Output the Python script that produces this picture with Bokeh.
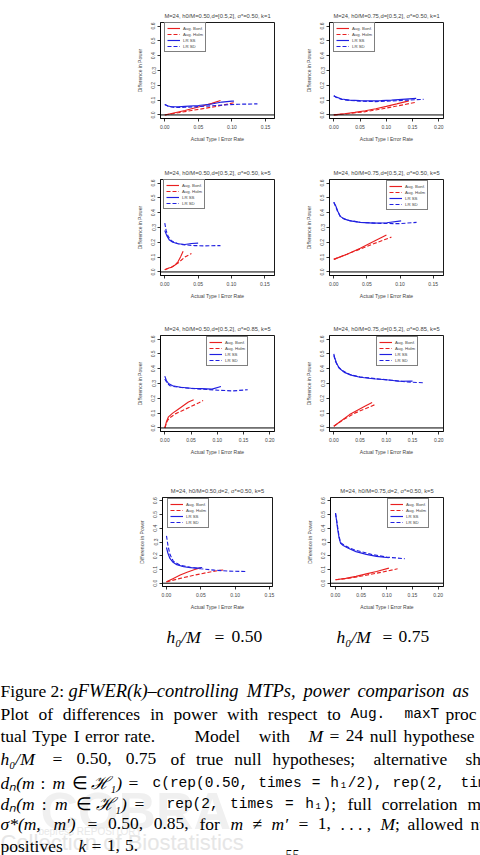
from bokeh.plotting import figure
from bokeh.layouts import column, row
from bokeh.models import Range1d, FixedTicker, PrintfTickFormatter, Span, Legend, LegendItem
from bokeh.embed import file_html
from bokeh.resources import INLINE
from bokeh.core.properties import value

# ---------------- data ----------------
Y_TICKS = [0.0, 0.1, 0.2, 0.3, 0.4, 0.5, 0.6]
X_TICKS_15 = [0.0, 0.05, 0.10, 0.15]
X_TICKS_20 = [0.0, 0.05, 0.10, 0.15, 0.20]
LEGEND_LABELS = ["Aug. Bonf.", "Aug. Holm", "LR SS", "LR SD"]

TITLES = [
    "M=24, h0/M=0.50,d=[0.5,2], σ*=0.50, k=1",
    "M=24, h0/M=0.75,d=[0.5,2], σ*=0.50, k=1",
    "M=24, h0/M=0.50,d=[0.5,2], σ*=0.50, k=5",
    "M=24, h0/M=0.75,d=[0.5,2], σ*=0.50, k=5",
    "M=24, h0/M=0.50,d=[0.5,2], σ*=0.85, k=5",
    "M=24, h0/M=0.75,d=[0.5,2], σ*=0.85, k=5",
    "M=24, h0/M=0.50,d=2, σ*=0.50, k=5",
    "M=24, h0/M=0.75,d=2, σ*=0.50, k=5",
]

# Panel 1
P1_BONF_X = [0.0, 0.01, 0.02, 0.03, 0.04, 0.05, 0.06, 0.07, 0.083]
P1_BONF_Y = [0.0, 0.01, 0.02, 0.03, 0.042, 0.054, 0.065, 0.078, 0.097]
P1_HOLM_X = [0.0, 0.02, 0.04, 0.06, 0.08, 0.095, 0.105]
P1_HOLM_Y = [0.0, 0.015, 0.03, 0.045, 0.06, 0.075, 0.085]
P1_SS_X = [0.0, 0.005, 0.01, 0.02, 0.03, 0.05, 0.07, 0.085, 0.1, 0.103]
P1_SS_Y = [0.07, 0.06, 0.055, 0.055, 0.058, 0.064, 0.074, 0.087, 0.093, 0.093]
P1_SD_X = [0.0, 0.005, 0.015, 0.03, 0.05, 0.07, 0.09, 0.11, 0.138]
P1_SD_Y = [0.07, 0.058, 0.05, 0.052, 0.056, 0.062, 0.068, 0.072, 0.075]

# Panel 2
P2_BONF_X = [0.0, 0.02, 0.04, 0.06, 0.08, 0.10, 0.12, 0.143]
P2_BONF_Y = [0.0, 0.008, 0.017, 0.028, 0.042, 0.058, 0.075, 0.095]
P2_HOLM_X = [0.0, 0.03, 0.06, 0.09, 0.12, 0.156]
P2_HOLM_Y = [0.0, 0.01, 0.022, 0.04, 0.06, 0.085]
P2_SS_X = [0.0, 0.005, 0.015, 0.03, 0.05, 0.07, 0.09, 0.11, 0.13, 0.157]
P2_SS_Y = [0.13, 0.12, 0.108, 0.1, 0.097, 0.095, 0.097, 0.1, 0.105, 0.112]
P2_SD_X = [0.0, 0.005, 0.015, 0.03, 0.05, 0.08, 0.11, 0.14, 0.171]
P2_SD_Y = [0.13, 0.118, 0.105, 0.098, 0.093, 0.09, 0.094, 0.1, 0.105]

# Panel 3
P3_BONF_X = [0.0, 0.005, 0.01, 0.015, 0.02, 0.024, 0.0275]
P3_BONF_Y = [0.015, 0.025, 0.032, 0.045, 0.07, 0.105, 0.14]
P3_HOLM_X = [0.0, 0.01, 0.02, 0.03, 0.04]
P3_HOLM_Y = [0.015, 0.032, 0.06, 0.1, 0.125]
P3_SS_X = [0.0, 0.003, 0.007, 0.012, 0.02, 0.03, 0.04, 0.05]
P3_SS_Y = [0.28, 0.245, 0.215, 0.2, 0.19, 0.185, 0.192, 0.195]
P3_SD_X = [0.0, 0.002, 0.005, 0.01, 0.02, 0.03, 0.045, 0.06, 0.0835]
P3_SD_Y = [0.33, 0.28, 0.24, 0.21, 0.19, 0.183, 0.178, 0.176, 0.178]

# Panel 4
P4_BONF_X = [0.0, 0.02, 0.04, 0.06, 0.0795]
P4_BONF_Y = [0.085, 0.12, 0.16, 0.205, 0.25]
P4_HOLM_X = [0.0, 0.02, 0.04, 0.06, 0.087]
P4_HOLM_Y = [0.085, 0.12, 0.155, 0.19, 0.235]
P4_SS_X = [0.0, 0.003, 0.006, 0.01, 0.015, 0.025, 0.04, 0.06, 0.08, 0.1017]
P4_SS_Y = [0.47, 0.445, 0.41, 0.375, 0.358, 0.345, 0.335, 0.33, 0.332, 0.345]
P4_SD_X = [0.0, 0.003, 0.006, 0.01, 0.02, 0.04, 0.07, 0.1, 0.125]
P4_SD_Y = [0.47, 0.44, 0.405, 0.372, 0.35, 0.335, 0.328, 0.326, 0.335]

# Panel 5
P5_BONF_X = [0.0, 0.003, 0.007, 0.015, 0.025, 0.035, 0.045, 0.055]
P5_BONF_Y = [0.0, 0.04, 0.075, 0.1, 0.125, 0.15, 0.175, 0.19]
P5_HOLM_X = [0.0, 0.005, 0.01, 0.02, 0.035, 0.05, 0.065, 0.073]
P5_HOLM_Y = [0.0, 0.05, 0.07, 0.095, 0.12, 0.145, 0.17, 0.185]
P5_SS_X = [0.0, 0.003, 0.007, 0.015, 0.03, 0.05, 0.07, 0.09, 0.107]
P5_SS_Y = [0.35, 0.32, 0.3, 0.285, 0.275, 0.268, 0.265, 0.262, 0.28]
P5_SD_X = [0.0, 0.005, 0.01, 0.02, 0.04, 0.07, 0.1, 0.13, 0.158]
P5_SD_Y = [0.33, 0.3, 0.285, 0.278, 0.27, 0.262, 0.255, 0.25, 0.258]

# Panel 6
P6_BONF_X = [0.0, 0.015, 0.03, 0.045, 0.06, 0.073]
P6_BONF_Y = [0.012, 0.05, 0.09, 0.12, 0.148, 0.172]
P6_HOLM_X = [0.0, 0.02, 0.04, 0.06, 0.079]
P6_HOLM_Y = [0.012, 0.06, 0.1, 0.13, 0.158]
P6_SS_X = [0.0, 0.002, 0.005, 0.01, 0.02, 0.035, 0.05, 0.075, 0.1, 0.125, 0.15]
P6_SS_Y = [0.5, 0.47, 0.44, 0.405, 0.375, 0.355, 0.342, 0.332, 0.325, 0.315, 0.316]
P6_SD_X = [0.0, 0.003, 0.008, 0.015, 0.03, 0.05, 0.08, 0.11, 0.14, 0.171]
P6_SD_Y = [0.49, 0.45, 0.415, 0.39, 0.36, 0.345, 0.332, 0.322, 0.31, 0.305]

# Panel 7
P7_BONF_X = [0.0, 0.01, 0.02, 0.03, 0.04, 0.05]
P7_BONF_Y = [0.01, 0.035, 0.06, 0.08, 0.098, 0.112]
P7_HOLM_X = [0.0, 0.02, 0.04, 0.06, 0.075, 0.083]
P7_HOLM_Y = [0.01, 0.035, 0.058, 0.078, 0.092, 0.096]
P7_SS_X = [0.0, 0.002, 0.005, 0.009, 0.015, 0.025, 0.035, 0.045, 0.052]
P7_SS_Y = [0.26, 0.22, 0.18, 0.155, 0.135, 0.12, 0.113, 0.11, 0.114]
P7_SD_X = [0.0, 0.002, 0.005, 0.01, 0.02, 0.035, 0.05, 0.07, 0.09, 0.117]
P7_SD_Y = [0.345, 0.28, 0.21, 0.16, 0.13, 0.115, 0.105, 0.095, 0.088, 0.085]

# Panel 8
P8_BONF_X = [0.0, 0.02, 0.04, 0.06, 0.08, 0.104]
P8_BONF_Y = [0.025, 0.035, 0.05, 0.068, 0.085, 0.11]
P8_HOLM_X = [0.0, 0.03, 0.06, 0.09, 0.121]
P8_HOLM_Y = [0.025, 0.038, 0.058, 0.08, 0.105]
P8_SS_X = [0.0, 0.002, 0.004, 0.007, 0.01, 0.015, 0.025, 0.04, 0.06, 0.08, 0.104]
P8_SS_Y = [0.51, 0.46, 0.4, 0.33, 0.29, 0.275, 0.255, 0.23, 0.21, 0.195, 0.185]
P8_SD_X = [0.0, 0.003, 0.007, 0.01, 0.02, 0.035, 0.05, 0.07, 0.1, 0.135]
P8_SD_Y = [0.51, 0.44, 0.34, 0.295, 0.27, 0.245, 0.23, 0.21, 0.19, 0.178]

PANEL_DATA = [
    [(P1_BONF_X, P1_BONF_Y), (P1_HOLM_X, P1_HOLM_Y), (P1_SS_X, P1_SS_Y), (P1_SD_X, P1_SD_Y)],
    [(P2_BONF_X, P2_BONF_Y), (P2_HOLM_X, P2_HOLM_Y), (P2_SS_X, P2_SS_Y), (P2_SD_X, P2_SD_Y)],
    [(P3_BONF_X, P3_BONF_Y), (P3_HOLM_X, P3_HOLM_Y), (P3_SS_X, P3_SS_Y), (P3_SD_X, P3_SD_Y)],
    [(P4_BONF_X, P4_BONF_Y), (P4_HOLM_X, P4_HOLM_Y), (P4_SS_X, P4_SS_Y), (P4_SD_X, P4_SD_Y)],
    [(P5_BONF_X, P5_BONF_Y), (P5_HOLM_X, P5_HOLM_Y), (P5_SS_X, P5_SS_Y), (P5_SD_X, P5_SD_Y)],
    [(P6_BONF_X, P6_BONF_Y), (P6_HOLM_X, P6_HOLM_Y), (P6_SS_X, P6_SS_Y), (P6_SD_X, P6_SD_Y)],
    [(P7_BONF_X, P7_BONF_Y), (P7_HOLM_X, P7_HOLM_Y), (P7_SS_X, P7_SS_Y), (P7_SD_X, P7_SD_Y)],
    [(P8_BONF_X, P8_BONF_Y), (P8_HOLM_X, P8_HOLM_Y), (P8_SS_X, P8_SS_Y), (P8_SD_X, P8_SD_Y)],
]
PANEL_XTICKS = [X_TICKS_15, X_TICKS_20, X_TICKS_15, X_TICKS_15,
                X_TICKS_20, X_TICKS_20, X_TICKS_15, X_TICKS_20]

# ---------------- layout / style ----------------
RED = "#e82020"
BLUE = "#2020e0"
STYLES = [(RED, "solid"), (RED, "4 2"), (BLUE, "solid"), (BLUE, "4 2")]
SANS = "Liberation Sans"

# cell w, cell h, frame left, frame top, frame w, frame h, x range, legend (x, y) from frame bottom-left
CELLS = [
    (300, 150, 160, 22, 114, 96, (-0.0064, 0.1634), (4, 66)),
    (180, 150, 29, 21, 114, 97, (-0.0082, 0.209), (4, 66)),
    (300, 160, 160, 28, 114, 97, (-0.0064, 0.1645), (3, 66)),
    (180, 160, 29, 29, 114, 96, (-0.0065, 0.1657), (57, 65)),
    (300, 160, 160, 25, 114, 96, (-0.0082, 0.209), (46, 65)),
    (180, 160, 29, 25, 114, 96, (-0.0082, 0.209), (47, 65)),
    (300, 155, 162, 27, 110, 89, (-0.0058, 0.1544), (5, 58)),
    (180, 155, 30, 26, 113, 90, (-0.0097, 0.2104), (57, 58)),
]


def make_panel(i):
    cw, ch, fl, ft, fw, fh, xr, lxy = CELLS[i]
    p = figure(width=cw, height=ch, x_range=Range1d(*xr), y_range=Range1d(-0.024, 0.624),
               output_backend="svg", toolbar_location=None,
               min_border_left=fl, min_border_top=ft,
               min_border_right=cw - fl - fw, min_border_bottom=ch - ft - fh,
               title=TITLES[i])
    p.title.text_font = SANS
    p.title.text_font_size = "5.8px"
    p.title.text_font_style = "normal"
    p.title.align = "center"
    p.title.standoff = 8
    p.grid.visible = False
    p.outline_line_color = "black"
    p.outline_line_width = 0.9
    p.background_fill_color = "white"
    p.border_fill_color = "white"

    for ax in (p.xaxis, p.yaxis):
        ax.axis_line_width = 0.8
        ax.major_tick_in = 0
        ax.major_tick_out = 3
        ax.major_tick_line_width = 0.8
        ax.minor_tick_line_color = None
        ax.major_label_text_font = SANS
        ax.major_label_text_font_size = "5px"
        ax.axis_label_text_font = SANS
        ax.axis_label_text_font_size = "5px"
        ax.axis_label_text_font_style = "normal"
    p.xaxis.ticker = FixedTicker(ticks=PANEL_XTICKS[i])
    p.xaxis.formatter = PrintfTickFormatter(format="%.2f")
    p.xaxis.major_label_standoff = 3
    p.xaxis.axis_label = "Actual Type I Error Rate"
    p.xaxis.axis_label_standoff = 4
    p.yaxis.ticker = FixedTicker(ticks=Y_TICKS)
    p.yaxis.formatter = PrintfTickFormatter(format="%.1f")
    p.yaxis.major_label_orientation = "vertical"
    p.yaxis.major_label_standoff = 2
    p.yaxis.axis_label = "Difference in Power"
    p.yaxis.axis_label_standoff = 6

    p.add_layout(Span(location=0, dimension="width", line_color="black", line_width=1))

    items = []
    for (xs, ys), (col, dash), lab in zip(PANEL_DATA[i], STYLES, LEGEND_LABELS):
        r = p.line(xs, ys, line_color=col, line_dash=dash, line_width=1.15)
        items.append(LegendItem(label=lab, renderers=[r]))
    leg = Legend(items=items, location=lxy, label_text_font=SANS, label_text_font_size="4.3px",
                 glyph_width=13, glyph_height=6, label_height=6, label_standoff=3,
                 spacing=0, padding=2, margin=0, border_line_color="black",
                 border_line_width=0.7, background_fill_color="white", background_fill_alpha=1)
    p.add_layout(leg)
    return p


panels = [make_panel(i) for i in range(8)]

# ---------------- caption section (justified like the TeX source) ----------------
SERIF = "Liberation Serif"
MONO = "Liberation Mono"
FONTS = {"R": (SERIF, "normal", 17.5), "I": (SERIF, "italic", 17.5),
         "T": (SERIF, "italic", 18.5), "M": (MONO, "normal", 14.5)}

R_W = dict(zip("abcdefghijklmnopqrstuvwxyz",
               [444, 500, 444, 500, 444, 333, 500, 500, 278, 278, 500, 278, 778,
                500, 500, 500, 500, 333, 389, 278, 500, 500, 722, 500, 500, 444]))
R_W.update(zip("ABCDEFGHIJKLMNOPQRSTUVWXYZ",
               [722, 667, 667, 722, 611, 556, 722, 722, 333, 389, 722, 611, 889,
                722, 722, 556, 722, 667, 556, 611, 722, 722, 944, 722, 722, 611]))
I_W = dict(zip("abcdefghijklmnopqrstuvwxyz",
               [500, 500, 444, 500, 444, 278, 500, 500, 278, 278, 444, 278, 722,
                500, 500, 500, 500, 389, 389, 278, 500, 444, 667, 444, 444, 389]))
I_W.update(zip("ABCDEFGHIJKLMNOPQRSTUVWXYZ",
               [611, 611, 667, 722, 611, 611, 722, 722, 333, 444, 667, 556, 833,
                667, 722, 611, 722, 611, 500, 556, 722, 611, 833, 611, 556, 556]))
PUNCT = {".": 250, ",": 250, ":": 278, ";": 278, "(": 333, ")": 333, "=": 564,
         "/": 278, "–": 500, "*": 500, "′": 275, "≠": 549, "∈": 667, "ℋ": 1000,
         "σ": 600, "₀": 330, "₁": 400, "ₙ": 330, " ": 250}
for d in (R_W, I_W):
    d.update({c: 500 for c in "0123456789"})
    d.update(PUNCT)


def tw(style, s):
    size = FONTS[style][2]
    if style == "M":
        return 0.6 * size * len(s)
    table = R_W if style == "R" else I_W
    return sum(table.get(c, 500) for c in s) / 1000.0 * size


# tokens: (style, text, anchor x or None, space before?)
CAPTION_LINES = [
    (11, [("I", "h₀/M", 166), ("R", "=", 214), ("R", "0.50", 231)]),
    (11, [("I", "h₀/M", 336), ("R", "=", 382), ("R", "0.75", 398)]),
    (65, [("R", "Figure", 0), ("R", "2:"), ("T", "gFWER(k)–controlling", 68), ("T", "MTPs,"),
          ("T", "power"), ("T", "comparison"), ("T", "as", 452)]),
    (88, [("R", "Plot", 0), ("R", "of"), ("R", "differences"), ("R", "in"), ("R", "power"),
          ("R", "with"), ("R", "respect"), ("R", "to"), ("M", "Aug.", 350),
          ("M", "maxT", 404), ("R", "proc", 445)]),
    (110, [("R", "tual", 0), ("R", "Type"), ("R", "I"), ("R", "error"), ("R", "rate.", 124),
           ("R", "Model", 194), ("R", "with"), ("I", "M", 308), ("R", "="), ("R", "24"),
           ("R", "null"), ("R", "hypothese", 403)]),
    (133, [("I", "h₀/M", 0), ("R", "=", 52), ("R", "0.50,"), ("R", "0.75"), ("R", "of", 170),
           ("R", "true"), ("R", "null"), ("R", "hypotheses;", 272), ("R", "alternative"),
           ("R", "shi", 465)]),
    (157, [("I", "dₙ(m", 0), ("R", ":"), ("I", "m"), ("R", "∈"), ("I", "ℋ₁)"), ("R", "=", 128),
           ("M", "c(rep(0.50,", 152), ("M", "times"), ("M", "="), ("M", "h₁/2),"),
           ("M", "rep(2,", 392), ("M", "times", 460)]),
    (178, [("I", "dₙ(m", 0), ("R", ":"), ("I", "m"), ("R", "∈"), ("I", "ℋ₁)"), ("R", "=", 134),
           ("M", "rep(2,", 166), ("M", "times"), ("M", "="), ("M", "h₁)"),
           ("R", ";", None, False), ("R", "full", 347), ("R", "correlation"), ("R", "ma", 467)]),
    (198, [("I", "σ*(m,", 0), ("I", "m′)"), ("R", "=", 87), ("R", "0.50,"), ("R", "0.85,"),
           ("R", "for"), ("I", "m", 230), ("R", "≠"), ("I", "m′"), ("R", "=", 298), ("R", "1,"),
           ("R", ". . . ,"), ("I", "M", 380), ("R", ";", None, False), ("R", "allowed"),
           ("R", "nu", 470)]),
    (220, [("R", "positives", 0), ("I", "k", 78), ("R", "="), ("R", "1,"), ("R", "5.")]),
]


def layout_line(tokens):
    toks = []
    for t in tokens:
        style, text = t[0], t[1]
        anchor = t[2] if len(t) > 2 else None
        space = t[3] if len(t) > 3 else True
        toks.append([style, text, anchor, space, tw(style, text)])
    anchors = [i for i, t in enumerate(toks) if t[2] is not None]
    xs = [None] * len(toks)
    for a, b in zip(anchors, anchors[1:]):
        widths = sum(toks[k][4] for k in range(a, b))
        nsp = sum(1 for k in range(a + 1, b + 1) if toks[k][3])
        gap = (toks[b][2] - toks[a][2] - widths) / nsp if nsp else 0
        gap = max(gap, 3.0)
        x = toks[a][2]
        for k in range(a, b):
            xs[k] = x
            x += toks[k][4] + (gap if toks[k + 1][3] else 0)
    last = anchors[-1]
    x = toks[last][2]
    for k in range(last, len(toks)):
        if k > last and toks[k][3]:
            x += 0.3 * FONTS["R"][2]
        xs[k] = x
        x += toks[k][4]
    return [(t[0], t[1], xx) for t, xx in zip(toks, xs)]


groups = {s: dict(x=[], y=[], t=[]) for s in FONTS}
for y, tokens in CAPTION_LINES:
    for style, text, x in layout_line(tokens):
        groups[style]["x"].append(x)
        groups[style]["y"].append(y)
        groups[style]["t"].append(text)

tp = figure(width=480, height=230, x_range=Range1d(0, 480), y_range=Range1d(230, 0),
            output_backend="svg", toolbar_location=None, min_border=0,
            x_axis_type=None, y_axis_type=None)
tp.grid.visible = False
tp.outline_line_color = None

# faint watermark
tp.text(x=[40], y=[185], text=["COBRA"], text_font=value("Liberation Sans"), text_font_size="52px",
        text_font_style="bold", text_color="#f0f0f0", text_baseline="middle")
tp.text(x=[38], y=[206], text=["bepress REPOSITORY"], text_font=value("Liberation Sans"),
        text_font_size="10px", text_color="#e8e8e8", text_baseline="middle")
tp.text(x=[0], y=[217], text=["Collection of Biostatistics"], text_font=value("Liberation Sans"),
        text_font_size="22px", text_color="#e6e6e6", text_baseline="middle")

for s, g in groups.items():
    font, fstyle, size = FONTS[s]
    tp.text(x=g["x"], y=g["y"], text=g["t"], text_font=value(font), text_font_size=f"{size}px",
            text_font_style=fstyle, text_color="black", text_baseline="middle")
tp.text(x=[292], y=[224], text=["55"], text_font=value(SERIF), text_font_size="14px",
        text_color="black", text_baseline="top", text_align="center")

layout = column(
    row(panels[0], panels[1]),
    row(panels[2], panels[3]),
    row(panels[4], panels[5]),
    row(panels[6], panels[7]),
    tp,
)

open("out.html", "w").write(file_html(layout, INLINE))
